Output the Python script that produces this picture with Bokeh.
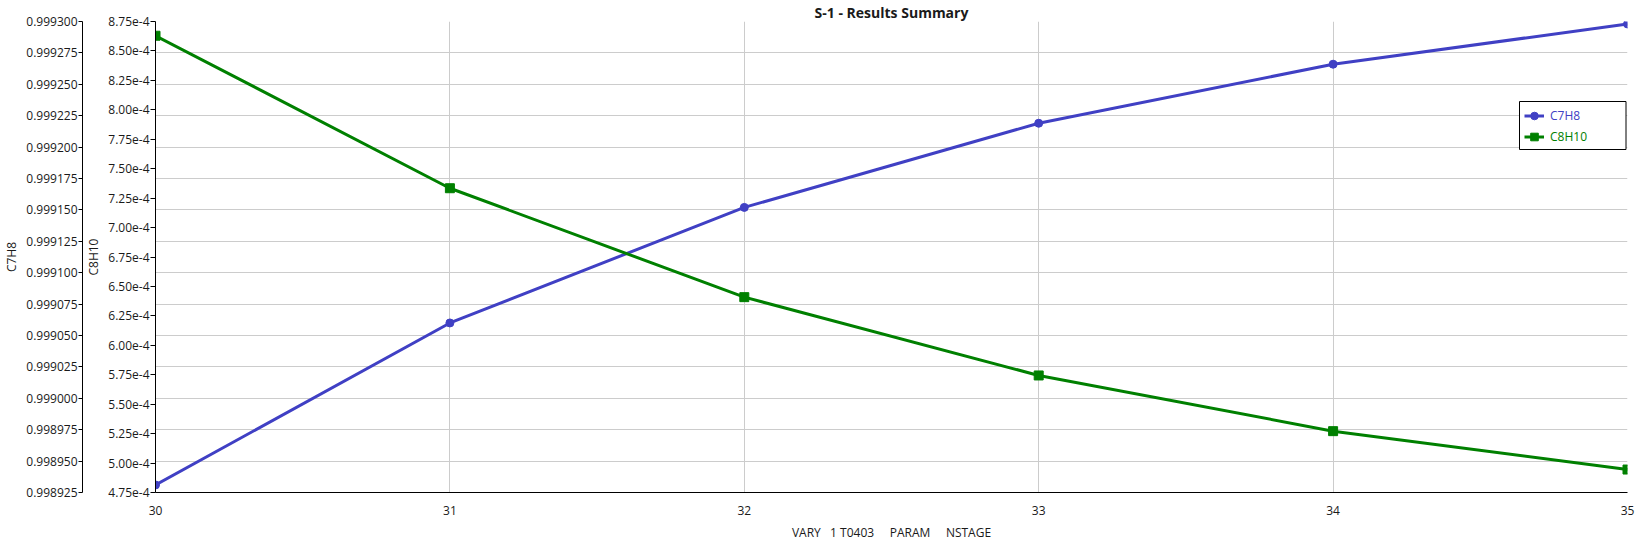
from bokeh.plotting import figure
from bokeh.models import (Range1d, LinearAxis, FixedTicker, PrintfTickFormatter,
                          CustomJSTickFormatter, Legend, LegendItem, BoxAnnotation)
from bokeh.embed import file_html
from bokeh.resources import INLINE

# ---- data ----
stages = [30, 31, 32, 33, 34, 35]
c7h8 = [0.998931, 0.999060, 0.999152, 0.999219, 0.999266, 0.999298]
c8h10 = [8.629e-4, 7.334e-4, 6.409e-4, 5.744e-4, 5.271e-4, 4.945e-4]

c7h8_ticks = [0.998925, 0.998950, 0.998975, 0.999000, 0.999025, 0.999050,
              0.999075, 0.999100, 0.999125, 0.999150, 0.999175, 0.999200,
              0.999225, 0.999250, 0.999275, 0.999300]
c8h10_ticks = [4.75e-4, 5.00e-4, 5.25e-4, 5.50e-4, 5.75e-4, 6.00e-4, 6.25e-4,
               6.50e-4, 6.75e-4, 7.00e-4, 7.25e-4, 7.50e-4, 7.75e-4, 8.00e-4,
               8.25e-4, 8.50e-4, 8.75e-4]

title_text = "S-1 - Results Summary"
x_label = "VARY\u00a0\u00a0 1 T0403\u00a0\u00a0\u00a0\u00a0 PARAM\u00a0\u00a0\u00a0\u00a0 NSTAGE"

# ---- styles ----
FONT = "Open Sans"
BLUE = "#4040c4"
GREEN = "#008000"
TXT = "#1a1a1a"
GRID = "#cccccc"
FRAME_W, FRAME_H = 1472, 471

c7_range = (c7h8_ticks[0], c7h8_ticks[-1])
c8_range = (c8h10_ticks[0], c8h10_ticks[-1])
x_range = (stages[0], stages[-1])

p = figure(frame_width=FRAME_W, frame_height=FRAME_H,
           x_range=Range1d(*x_range), y_range=Range1d(*c7_range),
           output_backend="svg", toolbar_location=None,
           min_border_left=0, min_border_right=8, min_border_top=0, min_border_bottom=0)
p.extra_y_ranges = {"c8h10": Range1d(*c8_range)}
p.outline_line_color = None
p.background_fill_color = "white"

# title
p.title.text = title_text
p.title.align = "center"
p.title.text_font = FONT
p.title.text_font_size = "14px"
p.title.text_font_style = "bold"
p.title.text_color = TXT
p.title.text_line_height = 0.9
p.title.standoff = 0
p.title.offset = 0

# x axis
xa = p.xaxis[0]
xa.ticker = FixedTicker(ticks=stages)
xa.axis_label = x_label
xa.major_tick_out = 0
xa.major_tick_in = 0
xa.minor_tick_out = 0
xa.minor_tick_in = 0
xa.major_label_standoff = 13
xa.axis_label_standoff = 6

# outer left axis: C7H8 (default range)
ya = p.yaxis[0]
ya.ticker = FixedTicker(ticks=c7h8_ticks)
ya.formatter = PrintfTickFormatter(format="%.6f")
ya.axis_label = "C7H8"
ya.major_tick_out = 4
ya.major_tick_in = 0
ya.minor_tick_out = 0
ya.minor_tick_in = 0
ya.major_label_standoff = 1
ya.axis_label_standoff = 3

# inner left axis: C8H10
ya2 = LinearAxis(y_range_name="c8h10", axis_label="C8H10")
ya2.ticker = FixedTicker(ticks=c8h10_ticks)
ya2.formatter = CustomJSTickFormatter(code='return (tick*1e4).toFixed(2) + "e-4";')
ya2.major_tick_out = 5
ya2.major_tick_in = 0
ya2.minor_tick_out = 0
ya2.minor_tick_in = 0
ya2.major_label_standoff = 1
ya2.axis_label_standoff = 3

p.left = [ya2, ya]

for ax in (xa, ya, ya2):
    ax.axis_line_color = "black"
    ax.major_tick_line_color = "black"
    ax.major_label_text_font = FONT
    ax.major_label_text_font_size = "12px"
    ax.major_label_text_color = TXT
    ax.axis_label_text_font = FONT
    ax.axis_label_text_font_size = "12px"
    ax.axis_label_text_font_style = "normal"
    ax.axis_label_text_color = TXT

# grids
p.xgrid.ticker = FixedTicker(ticks=stages)
p.ygrid.ticker = FixedTicker(ticks=c7h8_ticks)
for g in (p.xgrid[0], p.ygrid[0]):
    g.grid_line_color = GRID
    g.grid_line_width = 1

# series
l1 = p.line(stages, c7h8, line_color=BLUE, line_width=3)
s1 = p.scatter(stages, c7h8, marker="circle", size=8, fill_color=BLUE, line_color=BLUE)
l2 = p.line(stages, c8h10, line_color=GREEN, line_width=3, y_range_name="c8h10")
s2 = p.scatter(stages, c8h10, marker="square", size=9, fill_color=GREEN, line_color=GREEN,
               y_range_name="c8h10")

# legend box (pixel offsets from frame top-left converted to data units)
LB_LEFT, LB_RIGHT, LB_TOP, LB_BOTTOM = 1364, 1470.5, 80, 128
xspan = x_range[1] - x_range[0]
yspan = c7_range[1] - c7_range[0]
box = BoxAnnotation(left=x_range[0] + LB_LEFT / FRAME_W * xspan,
                    right=x_range[0] + LB_RIGHT / FRAME_W * xspan,
                    top=c7_range[1] - LB_TOP / FRAME_H * yspan,
                    bottom=c7_range[1] - LB_BOTTOM / FRAME_H * yspan,
                    fill_color="white", fill_alpha=1.0,
                    line_color="black", line_width=1, line_alpha=1.0)
p.add_layout(box)

def make_legend(label, rends, color, bottom):
    lg = Legend(items=[LegendItem(label=label, renderers=rends)],
                location=(1369, bottom), orientation="vertical",
                padding=0, margin=0, spacing=0,
                label_height=19, glyph_height=19, glyph_width=20, label_standoff=6,
                border_line_color=None, background_fill_alpha=0.0,
                label_text_font=FONT, label_text_font_size="12px",
                label_text_color=color)
    p.add_layout(lg, "center")
    return lg

make_legend("C7H8", [l1, s1], BLUE, 367)
make_legend("C8H10", [l2, s2], GREEN, 346)

open("out.html", "w").write(file_html(p, INLINE))
